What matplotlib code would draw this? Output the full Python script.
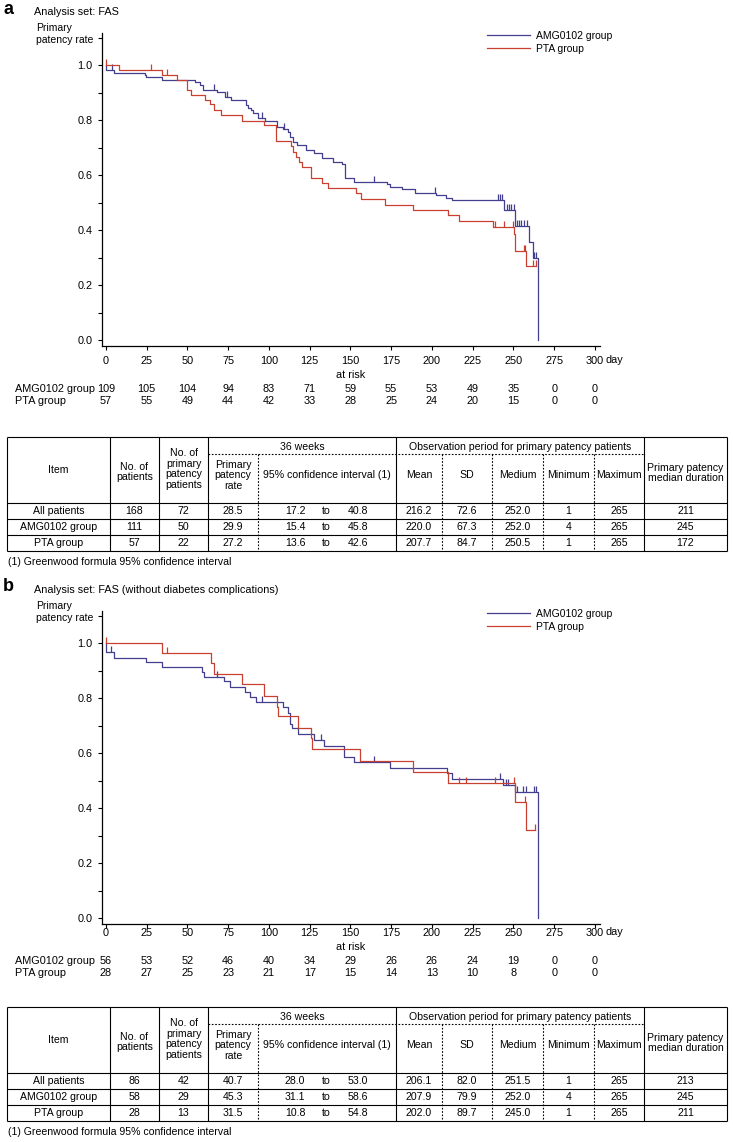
import numpy as np
import matplotlib
matplotlib.use("Agg")
import matplotlib.pyplot as plt
import matplotlib.transforms as mtransforms

plt.rcParams["font.family"] = ["Liberation Sans", "DejaVu Sans"]

W, H = 733, 1142
BLUE = "#423f8e"
RED = "#c8402f"
FS = 7.8
LFS = 7.5
TFS = 7.6

# ---------------- panel a: FAS ----------------
a_amg_t = [0, 0.3, 4.7, 23.8, 24.8, 34.6, 54.5, 57.6, 59.6, 68.4, 73, 76.6, 85.6, 86.9,
           88.9, 90.3, 93.4, 97.5, 104.7, 108.8, 111.5, 112.9, 114.5, 117.4, 122.7, 127.8,
           132.3, 139.1, 144.7, 146.7, 152.2, 172.3, 174.4, 181.5, 189.7, 202.4, 208.8,
           212.3, 244, 251.2, 259.4, 262, 265]
a_amg_s = [1.0, 0.981, 0.972, 0.964, 0.955, 0.947, 0.937, 0.927, 0.909, 0.901, 0.882, 0.873,
           0.855, 0.845, 0.836, 0.827, 0.806, 0.798, 0.776, 0.767, 0.758, 0.739, 0.721, 0.708,
           0.691, 0.681, 0.663, 0.648, 0.639, 0.588, 0.576, 0.567, 0.558, 0.548, 0.536, 0.527,
           0.518, 0.508, 0.472, 0.415, 0.358, 0.297, 0.0]
a_amg_cens = [3.7, 66.4, 74, 96, 109.2, 164.5, 202, 240.3, 241.5, 242.9, 246, 247, 248.5,
              250.1, 252.2, 253.2, 254.6, 256.3, 258.3, 262.9, 263.8]
a_pta_t = [0, 7.8, 34.6, 43.6, 49.4, 52.4, 61, 64.1, 66.2, 70.5, 83.6, 97.1, 104.3, 113.5,
           114.5, 116.6, 118.6, 120.1, 125.8, 132.3, 136, 153.2, 156.3, 171.3, 188.3, 209.8,
           216.3, 237.2, 250.2, 251.2, 258]
a_pta_s = [1.0, 0.981, 0.964, 0.945, 0.909, 0.89, 0.873, 0.857, 0.836, 0.817, 0.796, 0.781,
           0.725, 0.705, 0.685, 0.667, 0.647, 0.628, 0.588, 0.572, 0.551, 0.533, 0.512, 0.491,
           0.473, 0.453, 0.433, 0.41, 0.384, 0.324, 0.27]
a_pta_cens = [0, 27.9, 37.7, 238.9, 244.2, 249.5, 256.3, 257, 262, 263.8]
a_pta_end = 263.8

# ---------------- panel b: FAS without diabetes complications ----------------
b_amg_t = [0, 0.3, 4.7, 24.4, 34.6, 59.2, 60, 72.3, 76.2, 85.2, 88.3, 91.8, 108.4, 111.6,
           112.8, 114.3, 117.8, 127.4, 134, 146.3, 152.2, 174, 209.2, 212.3, 243.6, 251.2, 265]
b_amg_s = [1.0, 0.966, 0.947, 0.93, 0.912, 0.896, 0.878, 0.861, 0.84, 0.823, 0.804, 0.787,
           0.766, 0.745, 0.707, 0.69, 0.668, 0.647, 0.627, 0.587, 0.566, 0.545, 0.526, 0.505,
           0.484, 0.457, 0.0]
b_amg_cens = [3.3, 68.2, 96, 132, 164.5, 241.5, 245.7, 246.5, 252.2, 255.9, 258, 262.9, 263.8]
b_pta_t = [0, 34.6, 64.3, 66.2, 83.2, 97.1, 104.7, 105.3, 118, 125.6, 126.2, 155.9, 188.3,
           209.8, 251, 258]
b_pta_s = [1.0, 0.965, 0.926, 0.887, 0.85, 0.808, 0.768, 0.733, 0.692, 0.653, 0.613, 0.572,
           0.532, 0.492, 0.422, 0.32]
b_pta_cens = [0, 37.5, 216.5, 220.8, 238.9, 250.2, 257, 263.5]
b_pta_end = 263.5

risk_days = [0, 25, 50, 75, 100, 125, 150, 175, 200, 225, 250, 275, 300]
a_risk_amg = [109, 105, 104, 94, 83, 71, 59, 55, 53, 49, 35, 0, 0]
a_risk_pta = [57, 55, 49, 44, 42, 33, 28, 25, 24, 20, 15, 0, 0]
b_risk_amg = [56, 53, 52, 46, 40, 34, 29, 26, 26, 24, 19, 0, 0]
b_risk_pta = [28, 27, 25, 23, 21, 17, 15, 14, 13, 10, 8, 0, 0]

# ---------------- tables ----------------
items = ["All patients", "AMG0102 group", "PTA group"]
a_n_pat = [168, 111, 57]
a_n_patency = [72, 50, 22]
a_rate = ["28.5", "29.9", "27.2"]
a_ci_lo = ["17.2", "15.4", "13.6"]
a_ci_hi = ["40.8", "45.8", "42.6"]
a_mean = ["216.2", "220.0", "207.7"]
a_sd = ["72.6", "67.3", "84.7"]
a_medium = ["252.0", "252.0", "250.5"]
a_min = [1, 4, 1]
a_max = [265, 265, 265]
a_med_dur = [211, 245, 172]

b_n_pat = [86, 58, 28]
b_n_patency = [42, 29, 13]
b_rate = ["40.7", "45.3", "31.5"]
b_ci_lo = ["28.0", "31.1", "10.8"]
b_ci_hi = ["53.0", "58.6", "54.8"]
b_mean = ["206.1", "207.9", "202.0"]
b_sd = ["82.0", "79.9", "89.7"]
b_medium = ["251.5", "252.0", "245.0"]
b_min = [1, 4, 1]
b_max = [265, 265, 265]
b_med_dur = [213, 245, 211]


def rect(l, t, r, b):
    return [l / W, 1 - b / H, (r - l) / W, (b - t) / H]


def fy(y):
    return 1 - y / H


def fx(x):
    return x / W


def s_at(t, s, c):
    idx = np.searchsorted(t, c, side="right") - 1
    return np.asarray(s)[idx]


tick_up = [(0, 0), (0, 1)]

fig = plt.figure(figsize=(W / 100, H / 100), dpi=100)


def km_panel(top, amg_t, amg_s, amg_c, pta_t, pta_s, pta_c, pta_end,
             risk_amg, risk_pta, title, letter, shift, xpad):
    ax = fig.add_axes(rect(102, top, 600, top + 313))
    l1, = ax.step(amg_t, amg_s, where="post", color=BLUE, lw=0.9, label="AMG0102 group")
    ax.plot(amg_c, s_at(amg_t, amg_s, amg_c), ls="none", marker=tick_up, ms=9,
            mec=BLUE, mew=0.9)
    l2, = ax.step(pta_t + [pta_end], pta_s + [pta_s[-1]], where="post", color=RED, lw=0.9,
                  label="PTA group")
    ax.plot(pta_c, s_at(pta_t, pta_s, pta_c), ls="none", marker=tick_up, ms=9,
            mec=RED, mew=0.9)

    ax.set_xlim(-2.45, 303.1)
    ax.set_ylim(-0.0218, 1.1164)
    for sp in ["top", "right"]:
        ax.spines[sp].set_visible(False)
    for sp in ["left", "bottom"]:
        ax.spines[sp].set_linewidth(0.9)
    ax.set_xticks(risk_days)
    ax.set_xticklabels([str(d) for d in risk_days])
    ax.set_yticks([0, 0.2, 0.4, 0.6, 0.8, 1.0])
    ax.set_yticklabels(["0.0", "0.2", "0.4", "0.6", "0.8", "1.0"])
    ax.set_yticks([0.1, 0.3, 0.5, 0.7, 0.9, 1.1], minor=True)
    ax.tick_params(which="both", direction="out", length=3, width=0.8, labelsize=FS)
    ax.tick_params(axis="y", pad=4)
    ax.tick_params(axis="x", pad=xpad)
    ax.patch.set_alpha(0)

    ax.legend(handles=[l1, l2], loc="upper left", frameon=False, fontsize=LFS,
              bbox_to_anchor=(fx(487), fy(top - 2)), bbox_transform=fig.transFigure,
              borderpad=0, borderaxespad=0, handlelength=4.1, handletextpad=0.65,
              labelspacing=0.3)

    fig.text(fx(3), fy(top - 24), letter, fontsize=13, fontweight="bold", va="center")
    fig.text(fx(34), fy(top - 21), title, fontsize=FS, va="center")
    fig.text(fx(36), fy(top + 1), "Primary\npatency rate", fontsize=LFS, va="center",
             linespacing=1.25)
    fig.text(fx(606), fy(top + 327 + shift), "day", fontsize=FS, va="center")

    tr = mtransforms.blended_transform_factory(ax.transData, fig.transFigure)
    ax.text(150, fy(top + 342 + shift), "at risk", transform=tr, ha="center", va="center",
            fontsize=FS)
    for d, n1, n2 in zip(risk_days, risk_amg, risk_pta):
        ax.text(d, fy(top + 356 + shift), str(n1), transform=tr, ha="center", va="center",
                fontsize=FS)
        ax.text(d, fy(top + 368 + shift), str(n2), transform=tr, ha="center", va="center",
                fontsize=FS)
    fig.text(fx(15), fy(top + 356 + shift), "AMG0102 group", fontsize=FS, va="center")
    fig.text(fx(15), fy(top + 368 + shift), "PTA group", fontsize=FS, va="center")
    return ax


ax_a = km_panel(33, a_amg_t, a_amg_s, a_amg_cens, a_pta_t, a_pta_s, a_pta_cens, a_pta_end,
                a_risk_amg, a_risk_pta, "Analysis set: FAS", "a", 0, 4)
ax_b = km_panel(611, b_amg_t, b_amg_s, b_amg_cens, b_pta_t, b_pta_s, b_pta_cens, b_pta_end,
                b_risk_amg, b_risk_pta, "Analysis set: FAS (without diabetes complications)", "b",
                -6, 0)

ov = fig.add_axes([0, 0, 1, 1])
ov.set_xlim(0, W)
ov.set_ylim(H, 0)
ov.axis("off")

cols = [7, 110, 159, 208, 258, 396, 442, 492, 543, 594, 644, 727]


def draw_table(y_hdr, n_pat, n_patency, rate, ci_lo, ci_hi, mean, sd, medium, mn, mx, med_dur):
    top = y_hdr - 66
    y_dot = top + 17
    rh = 16
    bottom = y_hdr + 3 * rh
    lw = 0.8
    ov.hlines([top, y_hdr, y_hdr + rh, y_hdr + 2 * rh, bottom], cols[0], cols[-1],
              color="black", lw=lw)
    ov.vlines([7, 110, 159, 208, 396, 644, 727], top, bottom, color="black", lw=lw)
    ov.vlines([258, 442, 492, 543, 594], y_dot, bottom, color="black", lw=lw,
              linestyles=(0, (1.5, 1.5)))
    ov.hlines(y_dot, 208, 644, color="black", lw=lw, linestyles=(0, (1.5, 1.5)))

    hc = (top + y_hdr) / 2
    sc = (y_dot + y_hdr) / 2 - 3
    kw = dict(ha="center", va="center", fontsize=TFS, linespacing=1.1)
    ov.text(58.5, hc, "Item", **kw)
    ov.text(134.5, hc + 2, "No. of\npatients", **kw)
    ov.text(183.5, hc - 1, "No. of\nprimary\npatency\npatients", **kw)
    ov.text(302, (top + y_dot) / 2 + 1, "36 weeks", **kw)
    ov.text(520, (top + y_dot) / 2 + 1, "Observation period for primary patency patients", **kw)
    ov.text(233, sc, "Primary\npatency\nrate", **kw)
    ov.text(327, sc, "95% confidence interval (1)", **kw)
    for x, lab in zip([419, 467, 517.5, 568.5, 619], ["Mean", "SD", "Medium", "Minimum", "Maximum"]):
        ov.text(x, sc, lab, **kw)
    ov.text(685.5, hc + 3, "Primary patency\nmedian duration", **kw)

    for i in range(3):
        y = y_hdr + rh * i + rh / 2
        vals = [items[i], n_pat[i], n_patency[i], rate[i]]
        for x, v in zip([58.5, 134.5, 183.5, 233], vals):
            ov.text(x, y, str(v), **kw)
        ov.text(295, y, ci_lo[i], **kw)
        ov.text(326, y, "to", **kw)
        ov.text(358, y, ci_hi[i], **kw)
        vals = [mean[i], sd[i], medium[i], mn[i], mx[i], med_dur[i]]
        for x, v in zip([419, 467, 517.5, 568.5, 619, 685.5], vals):
            ov.text(x, y, str(v), **kw)
    ov.text(8, bottom + 11, "(1) Greenwood formula 95% confidence interval", ha="left",
            va="center", fontsize=TFS)


draw_table(503, a_n_pat, a_n_patency, a_rate, a_ci_lo, a_ci_hi, a_mean, a_sd, a_medium,
           a_min, a_max, a_med_dur)
draw_table(1073, b_n_pat, b_n_patency, b_rate, b_ci_lo, b_ci_hi, b_mean, b_sd, b_medium,
           b_min, b_max, b_med_dur)

fig.savefig("out.png", dpi=100)
